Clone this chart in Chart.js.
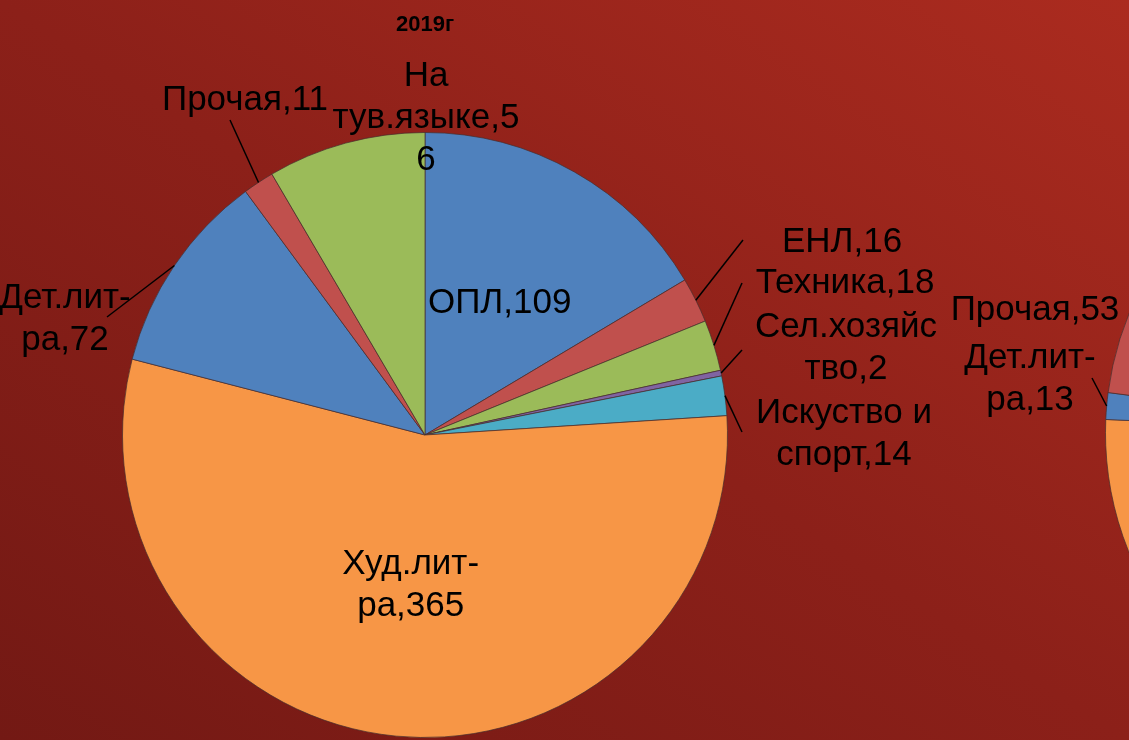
<!DOCTYPE html>
<html lang="ru">
<head>
<meta charset="utf-8">
<title>Фонд по отраслям</title>
<script src="https://cdn.jsdelivr.net/npm/chart.js@4/dist/chart.umd.min.js"></script>
<style>
  html, body {
    margin: 0;
    width: 1129px;
    height: 740px;
    overflow: hidden;
    background: linear-gradient(to bottom left, #ab2b1f 0%, #8c2019 50%, #731914 100%);
  }
  canvas { position: absolute; }
  #chart2019 { left: 0; top: 0; }
  #chartNext { left: 900px; top: 0; }
</style>
</head>
<body>
<canvas id="chart2019" width="1129" height="740"></canvas>
<canvas id="chartNext" width="900" height="900"></canvas>
<script>
// Отрасли знания (порядок секторов по часовой стрелке от 12 часов)
const categories = ['ОПЛ', 'ЕНЛ', 'Техника', 'Сел.хозяйство', 'Искуство и спорт',
  'Худ.лит-ра', 'Дет.лит-ра', 'Прочая', 'На тув.языке'];
const values2019 = [109, 16, 18, 2, 14, 365, 72, 11, 56];
// Вторая диаграмма (видна только левая кромка)
const valuesNext = [160, 20, 22, 3, 14, 500, 13, 53, 165];

const sliceColors = ['#4F81BD', '#C0504D', '#9BBB59', '#8064A2', '#4BACC6',
  '#F79646', '#4F81BD', '#C0504D', '#9BBB59'];

// Раскладка подписей: смещения от центра круга, число символов в строках
const spots2019 = [
  { inside: true, wrap: [7] },
  { dx: 417, dy: -193, ax: 318, ay: -195, wrap: [6] },
  { dx: 420, dy: -152, ax: 317, ay: -152, wrap: [10] },
  { dx: 421, dy: -87, ax: 317, ay: -85, wrap: [10, 5] },
  { dx: 419, dy: -1, ax: 317, ay: -3, wrap: [11, 8] },
  { inside: true, wrap: [8, 6] },
  { dx: -360, dy: -116, ax: -318, ay: -118, wrap: [8, 5] },
  { dx: -180, dy: -335, ax: -195, ay: -315, wrap: [9] },
  { dx: 1, dy: -317, wrap: [3, 11, 1] }
];
const spotsNext = [null, null, null, null, null, null,
  { dx: -390, dy: -54, ax: -328, ay: -55, wrap: [8, 5] },
  { dx: -385, dy: -123, wrap: [9] },
  null
];

function wrapText(text, widths) {
  const lines = [];
  let pos = 0;
  widths.forEach(w => {
    lines.push(text.slice(pos, pos + w).trim());
    pos += w;
  });
  if (pos < text.length) lines.push(text.slice(pos).trim());
  return lines;
}

// Подписи «категория,значение» с выносками и заголовок
const pieLabels = {
  id: 'pieLabels',
  afterDatasetsDraw(chart, args, opts) {
    const ctx = chart.ctx;
    const meta = chart.getDatasetMeta(0);
    const ds = chart.data.datasets[0];
    ctx.save();
    ctx.fillStyle = '#000';
    ctx.strokeStyle = '#000';
    ctx.lineWidth = 1.5;
    ctx.textAlign = 'center';
    ctx.textBaseline = 'middle';

    if (opts.title) {
      const a = meta.data[0];
      ctx.font = 'bold 22px "Liberation Sans", Arial, sans-serif';
      ctx.fillText(opts.title, a.x, 25);
    }

    ctx.font = '35px "Liberation Sans", Arial, sans-serif';
    const lineH = 42;
    meta.data.forEach((arc, i) => {
      const spot = opts.spots[i];
      if (!spot) return;
      const p = arc.getProps(['x', 'y', 'startAngle', 'endAngle', 'outerRadius'], true);
      const mid = (p.startAngle + p.endAngle) / 2;
      let lx, ly;
      if (spot.inside) {
        lx = p.x + Math.cos(mid) * p.outerRadius * 0.5;
        ly = p.y + Math.sin(mid) * p.outerRadius * 0.5;
      } else {
        lx = p.x + spot.dx;
        ly = p.y + spot.dy;
      }
      if (spot.ax !== undefined) {
        ctx.beginPath();
        ctx.moveTo(p.x + Math.cos(mid) * p.outerRadius, p.y + Math.sin(mid) * p.outerRadius);
        ctx.lineTo(p.x + spot.ax, p.y + spot.ay);
        ctx.stroke();
      }
      const text = chart.data.labels[i] + ',' + ds.data[i];
      const lines = wrapText(text, spot.wrap);
      const top = ly - (lines.length - 1) * lineH / 2;
      lines.forEach((ln, k) => ctx.fillText(ln, lx, top + k * lineH));
    });
    ctx.restore();
  }
};

function makePie(id, values, padding, spots, title) {
  return new Chart(document.getElementById(id), {
    type: 'pie',
    data: {
      labels: categories,
      datasets: [{
        data: values,
        backgroundColor: sliceColors,
        borderColor: 'rgba(70, 45, 45, 0.7)',
        borderWidth: 1
      }]
    },
    options: {
      responsive: false,
      animation: false,
      layout: { padding: padding },
      plugins: {
        legend: { display: false },
        tooltip: { enabled: false },
        pieLabels: { spots: spots, title: title }
      }
    },
    plugins: [pieLabels]
  });
}

makePie('chart2019', values2019, { left: 122, right: 401, top: 132, bottom: 2 }, spots2019, '2019г');
makePie('chartNext', valuesNext, { left: 205, right: 65, top: 118, bottom: 152 }, spotsNext, null);
</script>
</body>
</html>
